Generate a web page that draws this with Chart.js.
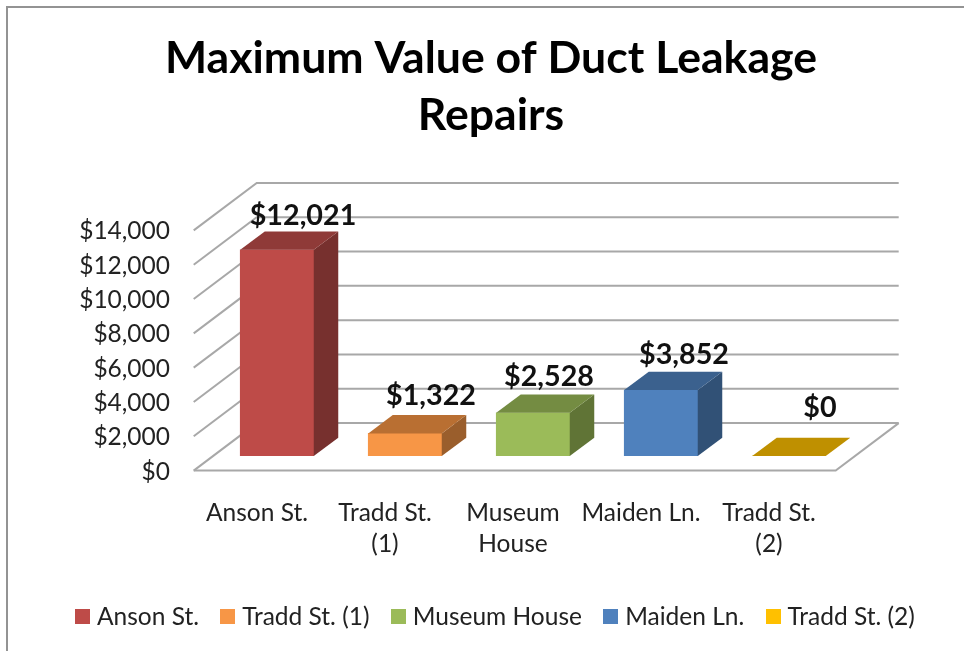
<!DOCTYPE html>
<html><head><meta charset="utf-8">
<style>html,body{margin:0;padding:0;background:#fff}canvas{display:block;filter:blur(0.45px)}</style>
<script src="https://cdn.jsdelivr.net/npm/chart.js@4"></script></head>
<body><canvas id="c" width="964" height="651"></canvas>
<script>
const categories = ["Anson St.", "Tradd St. (1)", "Museum House", "Maiden Ln.", "Tradd St. (2)"];
const tickLabels = ["Anson St.", ["Tradd St.", "(1)"], ["Museum", "House"], "Maiden Ln.", ["Tradd St.", "(2)"]];
const values = [12021, 1322, 2528, 3852, 0];
const titleLines = ["Maximum Value of Duct Leakage", "Repairs"];
const frontColors = ["#BE4B48", "#F79646", "#9BBB59", "#4F81BD", "#BF9000"];
const topColors = ["#8F3A38", "#B96F32", "#748C42", "#3B618E", "#BF9000"];
const sideColors = ["#77302E", "#9A5E2C", "#607436", "#315176", "#BF9000"];
const legendColors = ["#BE4B48", "#F79646", "#9BBB59", "#4F81BD", "#FFC000"];
const labelNudgeX = [26, 26, 16, 23, 31];
const labelNudgeY = [-34, -38, -36, -35, -48];

const FONT = "Lato, Carlito, sans-serif";
const money = v => "$" + Number(v).toLocaleString("en-US");
function swatch(color){const s=document.createElement("canvas");s.width=15;s.height=15;const g=s.getContext("2d");g.fillStyle=color;g.fillRect(0,0,15,15);return s;}

const wall3d = {
  id: "wall3d",
  beforeDraw(chart){
    const {ctx,width,height}=chart;
    ctx.save();
    ctx.fillStyle="#fff";ctx.fillRect(0,0,width,height);
    ctx.strokeStyle="#939393";ctx.lineWidth=2;
    ctx.beginPath();ctx.moveTo(7,height);ctx.lineTo(7,7);ctx.lineTo(width,7);ctx.stroke();
    ctx.restore();
  },
  beforeDatasetsDraw(chart){
    const {ctx}=chart, y=chart.scales.y;
    const backL=256.7, backR=898.7, backDy=-33, sideX=193.7, sideDy=14.5;
    ctx.save();
    ctx.strokeStyle="#A8A8A8";ctx.lineWidth=2;
    y.ticks.forEach(t=>{
      const py=y.getPixelForValue(t.value), by=py+backDy;
      ctx.beginPath();ctx.moveTo(sideX,py+sideDy);ctx.lineTo(backL,by);ctx.lineTo(backR,by);ctx.stroke();
    });
    const p0=y.getPixelForValue(0);
    ctx.beginPath();ctx.moveTo(backR,p0+backDy);ctx.lineTo(835.7,p0+sideDy);ctx.lineTo(sideX,p0+sideDy);ctx.stroke();
    ctx.restore();
  },
  afterDatasetsDraw(chart){
    const {ctx}=chart, meta=chart.getDatasetMeta(0);
    const dx=24.5, dy=-18.3;
    ctx.save();
    meta.data.forEach((b,i)=>{
      const l=b.x-b.width/2, r=b.x+b.width/2, t=b.y, bt=b.base;
      ctx.fillStyle=sideColors[i];
      ctx.beginPath();ctx.moveTo(r,t);ctx.lineTo(r+dx,t+dy);ctx.lineTo(r+dx,bt+dy);ctx.lineTo(r,bt);ctx.closePath();ctx.fill();
      ctx.fillStyle=topColors[i];
      ctx.beginPath();ctx.moveTo(l,t);ctx.lineTo(l+dx,t+dy);ctx.lineTo(r+dx,t+dy);ctx.lineTo(r,t);ctx.closePath();ctx.fill();
    });
    ctx.fillStyle="#111";ctx.font="bold 28.7px "+FONT;ctx.textAlign="center";ctx.textBaseline="middle";
    meta.data.forEach((b,i)=>ctx.fillText(money(values[i]),b.x+labelNudgeX[i],b.y+labelNudgeY[i]));
    ctx.restore();
  },
  afterLayout(chart){
    const t=chart.titleBlock; t.left=0; t.right=982;
    const g=chart.legend; g.left=0; g.right=995; g.top-=12; g.bottom-=12;
  }
};

new Chart(document.getElementById("c"),{
  type:"bar",
  data:{labels:tickLabels,datasets:[{data:values,backgroundColor:frontColors,barThickness:73.5}]},
  plugins:[wall3d],
  options:{
    responsive:false,animation:false,
    layout:{padding:0},
    plugins:{
      tooltip:{enabled:false},
      title:{display:true,text:titleLines,color:"#000",font:{family:FONT,size:44.6,weight:"bold",lineHeight:1.28},padding:{top:30,bottom:71.7}},
      legend:{display:true,position:"bottom",
        labels:{color:"#222",font:{family:FONT,size:24.5},usePointStyle:true,pointStyleWidth:4.5,padding:26.5,boxHeight:15,
          generateLabels:()=>categories.map((c,i)=>({text:c,pointStyle:swatch(legendColors[i]),fillStyle:legendColors[i],strokeStyle:legendColors[i],lineWidth:0,hidden:false,index:i,fontColor:"#222"}))}}
    },
    scales:{
      x:{grid:{display:false,drawTicks:false},border:{display:false},
        afterFit(a){a.height=133.9;},
        ticks:{color:"#222",font:{family:FONT,size:24.5,lineHeight:1.27},labelOffset:-20,maxRotation:0,minRotation:0,autoSkip:false,padding:41}},
      y:{min:0,max:14000,grid:{display:false,drawTicks:false},border:{display:false},
        afterFit(a){a.width=213;},
        ticks:{stepSize:2000,autoSkip:false,color:"#222",font:{family:FONT,size:24.5},labelOffset:15.5,padding:43,callback:v=>money(v)}},
      y2:{position:"right",min:0,max:14000,grid:{display:false,drawTicks:false},border:{display:false},
        afterFit(a){a.width=111;},ticks:{display:false}}
    }
  }
});
</script></body></html>
